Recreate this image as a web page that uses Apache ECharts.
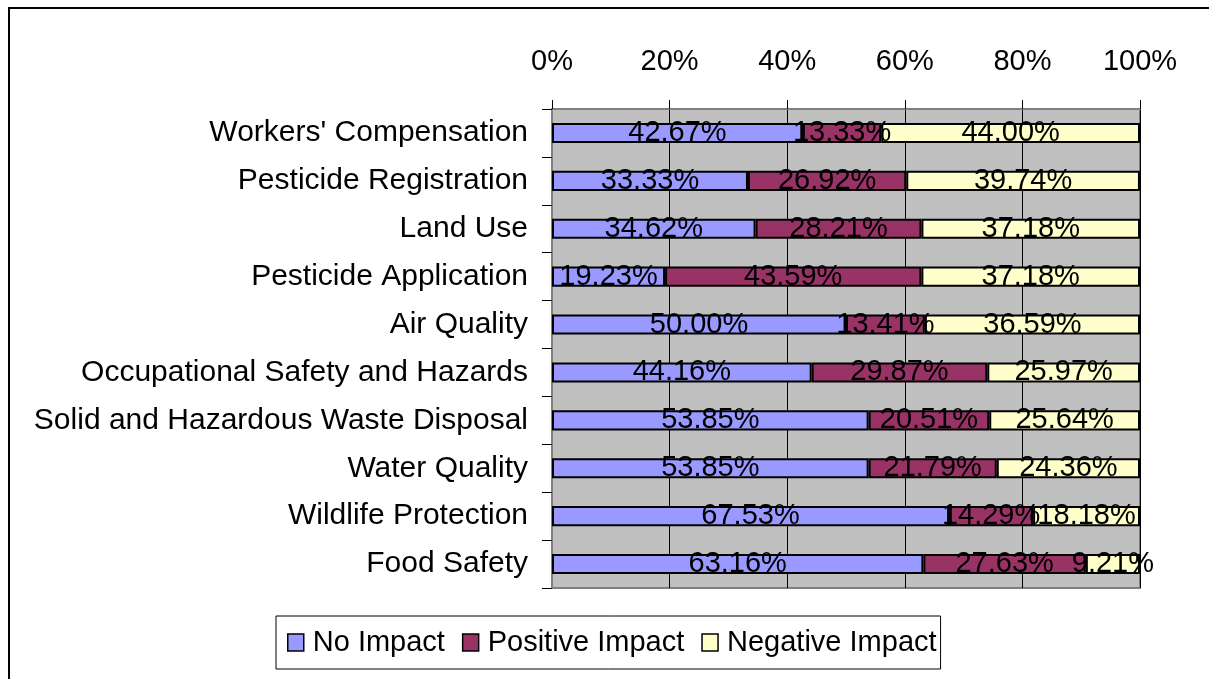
<!DOCTYPE html>
<html lang="en">
<head>
	<meta charset="UTF-8">
	<title>Impact stacked bars</title>
	<style type="text/css">
		html, body { margin: 0; padding: 0; background: #fff; }
	</style>
</head>
<body>
	<div id="main" style="width:1209px;height:679px;"></div>
</body>
</html>
<script type="text/javascript" src="https://cdn.jsdelivr.net/npm/echarts@6/dist/echarts.min.js"></script>
<script type="text/javascript">
    var categories = ["Workers' Compensation", "Pesticide Registration", "Land Use", "Pesticide Application",
        "Air Quality", "Occupational Safety and Hazards", "Solid and Hazardous Waste Disposal",
        "Water Quality", "Wildlife Protection", "Food Safety"];
    var noImpact = [42.67, 33.33, 34.62, 19.23, 50.00, 44.16, 53.85, 53.85, 67.53, 63.16];
    var positiveImpact = [13.33, 26.92, 28.21, 43.59, 13.41, 29.87, 20.51, 21.79, 14.29, 27.63];
    var negativeImpact = [44.00, 39.74, 37.18, 37.18, 36.59, 25.97, 25.64, 24.36, 18.18, 9.21];
    var seriesNames = ["No Impact", "Positive Impact", "Negative Impact"];
    var seriesColors = ["#9999FF", "#993366", "#FFFFCC"];

    var FONT = "'Liberation Sans', Arial, sans-serif";
    var myChart = echarts.init(document.getElementById('main'));

    function makeSeries(name, data, color) {
        return {
            name: name,
            type: 'bar',
            stack: 'total',
            data: data,
            barWidth: '42%',
            itemStyle: { color: color, borderColor: '#000', borderWidth: 2 },
            label: {
                show: true,
                position: 'inside',
                color: '#000',
                fontFamily: FONT,
                fontSize: 29,
                formatter: function (p) { return p.value.toFixed(2) + '%'; }
            }
        };
    }

    var option = {
        animation: false,
        graphic: [{
            type: 'rect',
            shape: { x: 9, y: 8, width: 1400, height: 800 },
            style: { fill: 'none', stroke: '#000', lineWidth: 2 },
            z: -1
        }],
        grid: {
            left: 552, right: 69, top: 109, bottom: 91,
            show: true,
            backgroundColor: '#C0C0C0',
            borderColor: '#808080',
            borderWidth: 2
        },
        legend: {
            data: seriesNames,
            left: 276,
            top: 616,
            padding: [12, 4, 12, 11],
            borderColor: '#000',
            borderWidth: 1,
            icon: 'rect',
            itemWidth: 16,
            itemHeight: 17,
            itemGap: 17,
            itemStyle: { borderColor: '#000', borderWidth: 1.5 },
            textStyle: { fontFamily: FONT, fontSize: 29, color: '#000', padding: [0, 0, 0, 4] }
        },
        xAxis: {
            type: 'value',
            position: 'top',
            min: 0, max: 100, interval: 20,
            axisLine: { show: true, lineStyle: { color: '#808080', width: 2 } },
            axisTick: { show: true, length: 9, lineStyle: { color: '#000' } },
            splitLine: { show: true, lineStyle: { color: '#000', width: 1 } },
            axisLabel: {
                margin: 33,
                color: '#000',
                fontFamily: FONT,
                fontSize: 29,
                formatter: '{value}%'
            }
        },
        yAxis: {
            type: 'category',
            inverse: true,
            data: categories,
            axisLine: { show: true, lineStyle: { color: '#808080', width: 2 } },
            axisTick: { show: true, length: 10, lineStyle: { color: '#000' } },
            axisLabel: {
                margin: 24,
                color: '#000',
                fontFamily: FONT,
                fontSize: 30
            }
        },
        series: [
            makeSeries(seriesNames[0], noImpact, seriesColors[0]),
            makeSeries(seriesNames[1], positiveImpact, seriesColors[1]),
            makeSeries(seriesNames[2], negativeImpact, seriesColors[2])
        ]
    };
    myChart.setOption(option);
</script>
